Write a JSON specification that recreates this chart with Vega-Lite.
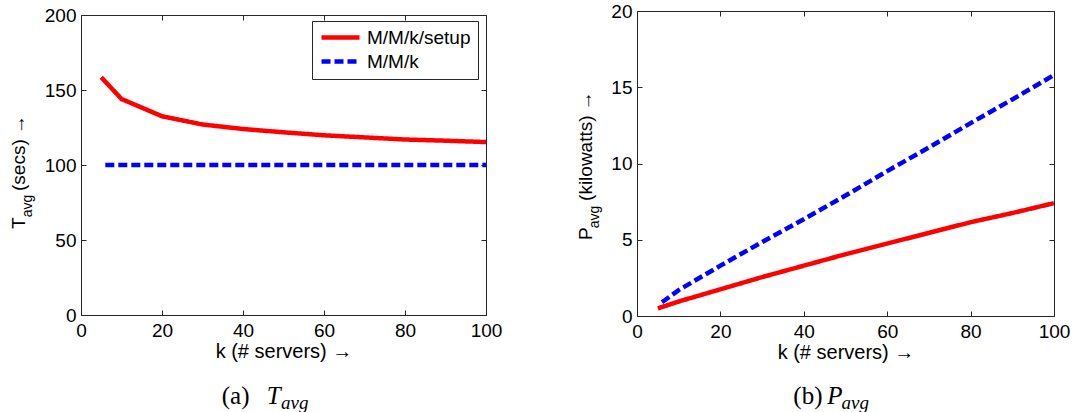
{
  "$schema": "https://vega.github.io/schema/vega-lite/v6.json",
  "padding": {"left": 9, "top": 1, "right": 0, "bottom": 0},
  "background": "white",
  "columns": 2,
  "spacing": {"column": 73, "row": 0},
  "datasets": {
    "tavg": [
      {"k": 5, "v": 158.5, "series": "M/M/k/setup"},
      {"k": 10, "v": 144, "series": "M/M/k/setup"},
      {"k": 20, "v": 132.5, "series": "M/M/k/setup"},
      {"k": 30, "v": 127, "series": "M/M/k/setup"},
      {"k": 40, "v": 124, "series": "M/M/k/setup"},
      {"k": 50, "v": 121.8, "series": "M/M/k/setup"},
      {"k": 60, "v": 119.8, "series": "M/M/k/setup"},
      {"k": 70, "v": 118.4, "series": "M/M/k/setup"},
      {"k": 80, "v": 117, "series": "M/M/k/setup"},
      {"k": 90, "v": 116.2, "series": "M/M/k/setup"},
      {"k": 100, "v": 115.3, "series": "M/M/k/setup"},
      {"k": 6, "v": 100, "series": "M/M/k"},
      {"k": 10, "v": 100, "series": "M/M/k"},
      {"k": 20, "v": 100, "series": "M/M/k"},
      {"k": 30, "v": 100, "series": "M/M/k"},
      {"k": 40, "v": 100, "series": "M/M/k"},
      {"k": 50, "v": 100, "series": "M/M/k"},
      {"k": 60, "v": 100, "series": "M/M/k"},
      {"k": 70, "v": 100, "series": "M/M/k"},
      {"k": 80, "v": 100, "series": "M/M/k"},
      {"k": 90, "v": 100, "series": "M/M/k"},
      {"k": 100, "v": 100, "series": "M/M/k"}
    ],
    "pavg": [
      {"k": 5, "v": 0.5, "series": "M/M/k/setup"},
      {"k": 10, "v": 0.95, "series": "M/M/k/setup"},
      {"k": 20, "v": 1.75, "series": "M/M/k/setup"},
      {"k": 30, "v": 2.55, "series": "M/M/k/setup"},
      {"k": 40, "v": 3.3, "series": "M/M/k/setup"},
      {"k": 50, "v": 4.05, "series": "M/M/k/setup"},
      {"k": 60, "v": 4.75, "series": "M/M/k/setup"},
      {"k": 70, "v": 5.45, "series": "M/M/k/setup"},
      {"k": 80, "v": 6.15, "series": "M/M/k/setup"},
      {"k": 90, "v": 6.75, "series": "M/M/k/setup"},
      {"k": 100, "v": 7.4, "series": "M/M/k/setup"},
      {"k": 6, "v": 0.9, "series": "M/M/k"},
      {"k": 10, "v": 1.7, "series": "M/M/k"},
      {"k": 20, "v": 3.3, "series": "M/M/k"},
      {"k": 30, "v": 4.85, "series": "M/M/k"},
      {"k": 40, "v": 6.35, "series": "M/M/k"},
      {"k": 50, "v": 7.9, "series": "M/M/k"},
      {"k": 60, "v": 9.5, "series": "M/M/k"},
      {"k": 70, "v": 11.05, "series": "M/M/k"},
      {"k": 80, "v": 12.65, "series": "M/M/k"},
      {"k": 90, "v": 14.2, "series": "M/M/k"},
      {"k": 100, "v": 15.8, "series": "M/M/k"}
    ]
  },
  "concat": [
    {
      "vconcat": [
        {
          "vconcat": [
            {
              "width": 405,
              "height": 1,
              "data": {"values": [{"a": 0}]},
              "mark": {"type": "point", "opacity": 0},
              "view": {"stroke": null}
            },
            {
              "width": 405,
              "height": 300,
              "data": {"name": "tavg"},
              "title": {"text": "T\u00a0\u00a0\u00a0\u00a0\u00a0(secs) \u2192", "subtitle": "\u200b\u00a0\u00a0\u00a0avg", "orient": "left", "anchor": "start", "frame": "group", "dx": 86, "offset": 9, "font": "Liberation Sans", "fontSize": 19, "fontWeight": "normal", "color": "#000", "subtitleFont": "Liberation Sans", "subtitleFontSize": 14, "subtitleColor": "#000", "subtitlePadding": -8},
              "layer": [
                {
                  "mark": {"type": "line", "strokeWidth": 4.5, "strokeCap": "butt"},
                  "encoding": {
                    "x": {"field": "k", "type": "quantitative", "scale": {"domain": [0, 100], "nice": false}, "axis": {"orient": "bottom", "values": [0, 20, 40, 60, 80, 100], "title": "k (# servers) \u2192", "labelPadding": 11, "titlePadding": 1}},
                    "y": {"field": "v", "type": "quantitative", "scale": {"domain": [0, 200], "nice": false}, "axis": {"orient": "left", "values": [0, 50, 100, 150, 200], "title": null, "labelPadding": 10}},
                    "color": {"field": "series", "type": "nominal", "scale": {"domain": ["M/M/k/setup", "M/M/k"], "range": ["#ff0000", "#0000ff"]}, "legend": {"legendX": 231, "legendY": 10}},
                    "strokeDash": {"field": "series", "type": "nominal", "scale": {"domain": ["M/M/k/setup", "M/M/k"], "range": [[1, 0], [9, 4]]}, "legend": {"legendX": 231, "legendY": 10}}
                  }
                },
                {
                  "mark": {"type": "line", "opacity": 0},
                  "encoding": {
                    "x": {"field": "k", "type": "quantitative", "axis": {"orient": "top", "values": [0, 20, 40, 60, 80, 100], "labels": false, "title": null}},
                    "y": {"field": "v", "type": "quantitative", "axis": {"orient": "right", "values": [0, 50, 100, 150, 200], "labels": false, "title": null}}
                  }
                }
              ],
              "resolve": {"axis": {"x": "independent", "y": "independent"}}
            }
          ],
          "spacing": -10,
          "title": {"text": "(a)", "orient": "bottom", "anchor": "start", "frame": "bounds", "dx": 212, "offset": 22, "font": "Liberation Serif", "fontSize": 25, "fontWeight": "normal", "color": "#000"}
        }
      ],
      "title": {"text": "T", "subtitle": "\u200b\u00a0\u00a0\u00a0avg", "orient": "bottom", "anchor": "start", "frame": "bounds", "dx": 257, "offset": -25, "font": "Liberation Serif", "fontStyle": "italic", "fontSize": 25, "fontWeight": "normal", "color": "#000", "subtitleFont": "Liberation Serif", "subtitleFontStyle": "italic", "subtitleFontSize": 19, "subtitleColor": "#000", "subtitlePadding": -15}
    },
    {
      "vconcat": [
        {
          "vconcat": [
            {
              "width": 417,
              "height": 305,
              "data": {"name": "pavg"},
              "title": {"text": "P\u00a0\u00a0\u00a0\u00a0\u00a0(kilowatts) \u2192", "subtitle": "\u200b\u00a0\u00a0\u00a0avg", "orient": "left", "anchor": "start", "frame": "group", "dx": 76, "offset": 9, "font": "Liberation Sans", "fontSize": 19, "fontWeight": "normal", "color": "#000", "subtitleFont": "Liberation Sans", "subtitleFontSize": 14, "subtitleColor": "#000", "subtitlePadding": -8},
              "layer": [
                {
                  "mark": {"type": "line", "strokeWidth": 4.5, "strokeCap": "butt"},
                  "encoding": {
                    "x": {"field": "k", "type": "quantitative", "scale": {"domain": [0, 100], "nice": false}, "axis": {"orient": "bottom", "values": [0, 20, 40, 60, 80, 100], "title": "k (# servers) \u2192", "labelPadding": 11, "titlePadding": 1}},
                    "y": {"field": "v", "type": "quantitative", "scale": {"domain": [0, 20], "nice": false}, "axis": {"orient": "left", "values": [0, 5, 10, 15, 20], "title": null, "labelPadding": 10}},
                    "color": {"field": "series", "type": "nominal", "scale": {"domain": ["M/M/k/setup", "M/M/k"], "range": ["#ff0000", "#0000ff"]}, "legend": {"legendX": 244, "legendY": 243}},
                    "strokeDash": {"field": "series", "type": "nominal", "scale": {"domain": ["M/M/k/setup", "M/M/k"], "range": [[1, 0], [9, 4]]}, "legend": {"legendX": 244, "legendY": 243}}
                  }
                },
                {
                  "mark": {"type": "line", "opacity": 0},
                  "encoding": {
                    "x": {"field": "k", "type": "quantitative", "axis": {"orient": "top", "values": [0, 20, 40, 60, 80, 100], "labels": false, "title": null}},
                    "y": {"field": "v", "type": "quantitative", "axis": {"orient": "right", "values": [0, 5, 10, 15, 20], "labels": false, "title": null}}
                  }
                }
              ],
              "resolve": {"axis": {"x": "independent", "y": "independent"}}
            }
          ],
          "title": {"text": "(b)", "orient": "bottom", "anchor": "start", "frame": "bounds", "dx": 217, "offset": 21, "font": "Liberation Serif", "fontSize": 25, "fontWeight": "normal", "color": "#000"}
        }
      ],
      "title": {"text": "P", "subtitle": "\u200b\u00a0\u00a0\u00a0avg", "orient": "bottom", "anchor": "start", "frame": "bounds", "dx": 251, "offset": -25, "font": "Liberation Serif", "fontStyle": "italic", "fontSize": 25, "fontWeight": "normal", "color": "#000", "subtitleFont": "Liberation Serif", "subtitleFontStyle": "italic", "subtitleFontSize": 19, "subtitleColor": "#000", "subtitlePadding": -15}
    }
  ],
  "config": {
    "font": "Liberation Sans",
    "view": {"stroke": "#262626", "strokeWidth": 1},
    "axis": {
      "grid": false,
      "domain": false,
      "labelFlush": false,
      "labelOverlap": false,
      "labelFont": "Liberation Sans",
      "labelFontSize": 19,
      "labelColor": "#000",
      "titleFont": "Liberation Sans",
      "titleFontSize": 20,
      "titleFontWeight": "normal",
      "titleColor": "#000",
      "tickColor": "#262626",
      "tickSize": -5,
      "labelPadding": 10,
      "titlePadding": 1
    },
    "legend": {
      "orient": "none",
      "title": null,
      "symbolType": "stroke",
      "symbolSize": 1444,
      "symbolStrokeWidth": 4.5,
      "clipHeight": 19,
      "labelFont": "Liberation Sans",
      "labelFontSize": 19,
      "labelColor": "#000",
      "strokeColor": "#262626",
      "fillColor": "#ffffff",
      "padding": 7,
      "rowPadding": 4,
      "labelOffset": 5
    }
  }
}
